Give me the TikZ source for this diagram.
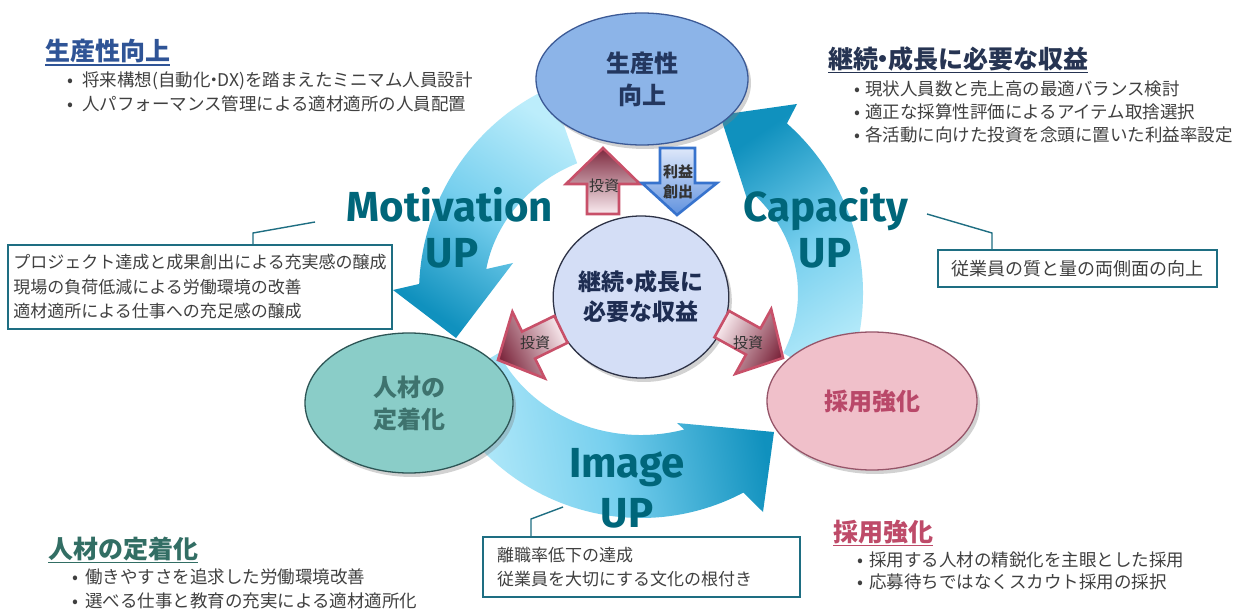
\documentclass[tikz,border=0pt]{standalone}
\usepackage{fontspec}
\setmainfont{Noto Sans CJK JP}
\newfontfamily\latf{Fira Sans}
\usetikzlibrary{shapes.geometric,shadows,calc}
\definecolor{ringlight}{RGB}{188,237,251}
\definecolor{ringmid}{RGB}{118,207,238}
\definecolor{ringdark}{RGB}{16,145,190}
\definecolor{bigteal}{RGB}{0,102,122}
\definecolor{txtgray}{RGB}{64,64,64}
\definecolor{calline}{RGB}{30,110,130}
\definecolor{topfill}{RGB}{140,180,232}
\definecolor{topline}{RGB}{60,90,150}
\definecolor{toptext}{RGB}{35,55,95}
\definecolor{midfill}{RGB}{212,222,246}
\definecolor{midline}{RGB}{45,50,70}
\definecolor{midtext}{RGB}{30,45,82}
\definecolor{leftfill}{RGB}{138,205,200}
\definecolor{leftline}{RGB}{45,85,85}
\definecolor{lefttext}{RGB}{62,115,110}
\definecolor{rightfill}{RGB}{240,192,202}
\definecolor{rightline}{RGB}{150,85,105}
\definecolor{righttext}{RGB}{185,72,105}
\definecolor{redline}{RGB}{200,80,105}
\definecolor{redd}{RGB}{125,40,62}
\definecolor{redl}{RGB}{250,236,240}
\definecolor{blueline}{RGB}{55,115,205}
\definecolor{bluel}{RGB}{222,232,250}
\definecolor{blued}{RGB}{95,145,222}
\definecolor{hcola}{RGB}{47,84,150}
\definecolor{hcolb}{RGB}{38,52,82}
\definecolor{hcolc}{RGB}{50,110,100}
\definecolor{hcold}{RGB}{190,75,105}
\newcommand{\mybul}[1]{\makebox[#1][c]{•}}
\newcommand{\ndot}{\kern-.3em・\kern-.3em}
\begin{document}
\begin{tikzpicture}[x=1pt,y=-1pt,
 bodytxt/.style={font=\fontsize{17.5}{22}\selectfont, text=txtgray, inner sep=0pt, anchor=base west},
 headtxt/.style={font=\fontsize{25}{30}\selectfont\bfseries, inner sep=0pt, anchor=base west},
 ulinestyle/.style={line width=1.6pt},
 biglbl/.style={font=\latf\bfseries\fontsize{42}{48}\selectfont, text=bigteal, inner sep=0pt, anchor=base},
 elli/.style={ellipse, line width=1.3pt, inner sep=0pt, align=center, font=\fontsize{24}{32}\selectfont\bfseries, drop shadow={shadow xshift=3pt, shadow yshift=-4pt, opacity=0.35}},
 callbox/.style={draw=calline, line width=1.4pt, fill=white, inner sep=0pt, font=\fontsize{17}{24.5}\selectfont, text=txtgray, align=left},
 leader/.style={draw=calline, line width=1.4pt},
 redarrow/.style={draw=redline, line width=2.6pt, line join=miter, top color=redd, bottom color=redl},
 bluearrow/.style={draw=blueline, line width=2.6pt, line join=miter, top color=bluel, bottom color=blued},
 arrlbl/.style={font=\fontsize{15}{20}\selectfont, text=black!80, inner sep=0pt, align=center},
 ringarrow/.style={top color=ringdark, bottom color=ringlight, middle color=ringmid}]

\fill[white] (0,0) rectangle (1256,609);
\useasboundingbox (0,0) rectangle (1256,609);

\coordinate (C) at (641,293);
% ring arrows
\shade[ringarrow, shading angle=-80]
 ($(C)+(155:222 and 225)$) arc[start angle=155, end angle=62.5, x radius=222, y radius=225]
 -- (763,512) -- (774,432) -- (677,423) -- ($(C)+(74:157 and 142)$)
 arc[start angle=74, end angle=155, x radius=157, y radius=142] -- cycle;
\shade[ringarrow, shading angle=34]
 ($(C)+(25:222 and 225)$) arc[start angle=25, end angle=-48.9, x radius=222, y radius=225]
 -- (797,104) -- (720,115) -- (748,202) -- ($(C)+(-44.8:157 and 142)$)
 arc[start angle=-44.8, end angle=25, x radius=157, y radius=142] -- cycle;
\shade[ringarrow, shading angle=146]
 ($(C)+(246:222 and 225)$) arc[start angle=246, end angle=182.3, x radius=222, y radius=225]
 -- (393,290) -- (456,338) -- (513,263) -- ($(C)+(189.7:157 and 142)$)
 arc[start angle=189.7, end angle=246, x radius=157, y radius=142] -- cycle;

% callout boxes
\node[callbox, minimum width=384pt, minimum height=84pt] (mbox) at (200,287)
 {プロジェクト達成と成果創出による充実感の醸成\\現場の負荷低減による労働環境の改善\\適材適所による仕事への充足感の醸成};
\coordinate (m1) at (253,233); \coordinate (m2) at (315,222);
\draw[leader] (mbox.north -| m1) -- (m1) -- (m2);

\node[callbox, minimum width=279pt, minimum height=37pt, font=\fontsize{18}{22}\selectfont] (cbox) at (1077.5,268.5) {従業員の質と量の両側面の向上};
\coordinate (c1) at (992,233); \coordinate (c2) at (927,214);
\draw[leader] (cbox.north -| c1) -- (c1) -- (c2);

\node[callbox, minimum width=317pt, minimum height=60pt, text width=289pt] (ibox) at (641.5,567)
 {離職率低下の達成\\従業員を大切にする文化の根付き};
\coordinate (i1) at (531,519); \coordinate (i2) at (563,507);
\draw[leader] (ibox.north -| i1) -- (i1) -- (i2);

% ellipses
\node[elli, fill=topfill, draw=topline, text=toptext, minimum width=212pt, minimum height=132pt] (top) at (642,79) {生産性\\向上};
\node[elli, fill=midfill, draw=midline, text=midtext, minimum width=162pt, minimum height=162pt, font=\fontsize{23}{30}\selectfont\bfseries] (mid) at (641,297) {継続\ndot 成長に\\必要な収益};
\node[elli, fill=leftfill, draw=leftline, text=lefttext, minimum width=208pt, minimum height=140pt] (left) at (409,403) {人材の\\定着化};
\node[elli, fill=rightfill, draw=rightline, text=righttext, minimum width=210pt, minimum height=138pt] (right) at (872,401) {採用強化};

% small arrows
\shadedraw[redarrow] (603,148) -- (640,184) -- (619,184) -- (619,214) -- (587,214) -- (587,184) -- (566,184) -- cycle;
\node[arrlbl] (inva) at (604,186) {投資};
\shadedraw[bluearrow] (660,148) -- (695,148) -- (695,183) -- (717,183) -- (677,215) -- (642,183) -- (660,183) -- cycle;
\node[arrlbl, font=\fontsize{15}{20}\selectfont\bfseries] (prof) at (678,182) {利益\\創出};
\shadedraw[redarrow, shading angle=116] (498,360) -- (512.4,311.8) -- (522.0,331.6) -- (554.4,315.9) -- (567.5,342.8) -- (535.1,358.6) -- (544.8,378.4) -- cycle;
\node[arrlbl] (invb) at (535,343) {投資};
\shadedraw[redarrow, shading angle=-119] (783,358) -- (771.2,309.1) -- (760.5,328.4) -- (729.0,310.9) -- (714.5,337.2) -- (746.0,354.6) -- (735.3,373.9) -- cycle;
\node[arrlbl] (invc) at (748,343) {投資};

% big labels
\node[biglbl] (mot) at (450,222) {Motivation};
\node[biglbl] (motup) at (452,268) {UP};
\node[biglbl] (cap) at (826,222) {Capacity};
\node[biglbl] (capup) at (825,268) {UP};
\node[biglbl] (img) at (627,478) {Image};
\node[biglbl] (imgup) at (627,527) {UP};

% headings and lists
\node[headtxt, text=hcola] (ha) at (45,61) {生産性向上};
\draw[ulinestyle, hcola] ($(ha.base west)+(0,4)$) -- ($(ha.base east)+(0,4)$);
\node[bodytxt] (la1) at (58,86.5) {\mybul{24pt}将来構想(自動化\ndot DX)を踏まえたミニマム人員設計};
\node[bodytxt] (la2) at (58,110.5) {\mybul{24pt}人パフォーマンス管理による適材適所の人員配置};

\node[headtxt, text=hcolb] (hb) at (828,68.5) {継続\ndot 成長に必要な収益};
\draw[ulinestyle, hcolb] ($(hb.base west)+(0,4)$) -- ($(hb.base east)+(0,4)$);
\node[bodytxt] (lb1) at (849,95.5) {\mybul{16pt}現状人員数と売上高の最適バランス検討};
\node[bodytxt] (lb2) at (849,118.5) {\mybul{16pt}適正な採算性評価によるアイテム取捨選択};
\node[bodytxt] (lb3) at (849,141.5) {\mybul{16pt}各活動に向けた投資を念頭に置いた利益率設定};

\node[headtxt, text=hcolc] (hc) at (48,558.5) {人材の定着化};
\draw[ulinestyle, hcolc] ($(hc.base west)+(0,4)$) -- ($(hc.base east)+(0,4)$);
\node[bodytxt] (lc1) at (65,583.5) {\mybul{20pt}働きやすさを追求した労働環境改善};
\node[bodytxt] (lc2) at (65,607.5) {\mybul{20pt}選べる仕事と教育の充実による適材適所化};

\node[headtxt, text=hcold] (hd) at (833,541.5) {採用強化};
\draw[ulinestyle, hcold] ($(hd.base west)+(0,4)$) -- ($(hd.base east)+(0,4)$);
\node[bodytxt] (ld1) at (851,566.5) {\mybul{18pt}採用する人材の精鋭化を主眼とした採用};
\node[bodytxt] (ld2) at (851,588.5) {\mybul{18pt}応募待ちではなくスカウト採用の採択};
\end{tikzpicture}
\end{document}
